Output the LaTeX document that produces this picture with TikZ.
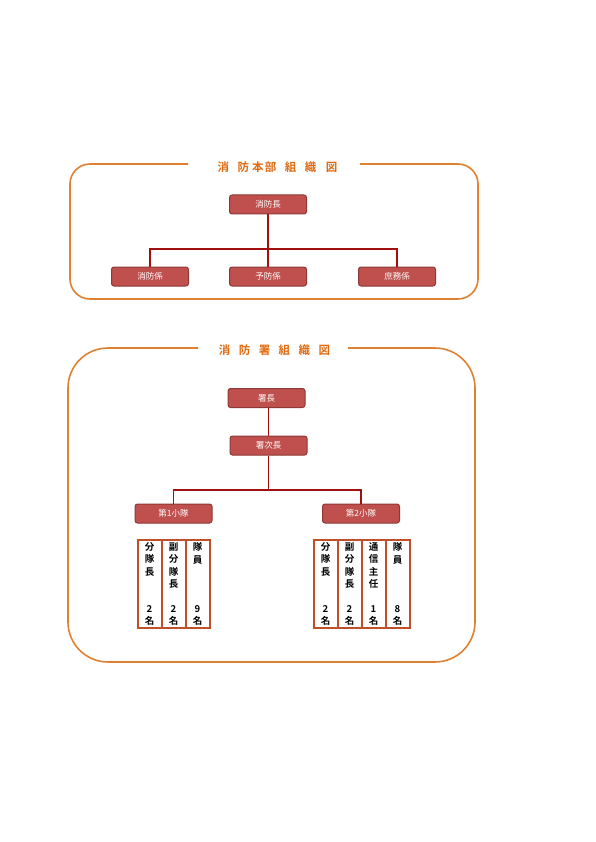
\documentclass[tikz,border=0pt]{standalone}
\usepackage{fontspec}
\newfontfamily\cjk{Noto Sans CJK JP}
\newfontfamily\cjkb{Noto Sans CJK JP Bold}
\definecolor{frameor}{HTML}{E08030}
\definecolor{titleor}{HTML}{E06A10}
\definecolor{boxfill}{HTML}{C0504D}
\definecolor{boxedge}{HTML}{8C3836}
\definecolor{linkred}{HTML}{A01010}
\definecolor{coledge}{HTML}{C0502A}
\tikzset{
  frame/.style={draw=frameor, line width=1.6pt},
  ttl/.style={font=\cjkb\fontsize{11.5}{11.5}\selectfont, text=titleor, inner sep=0pt},
  box/.style={draw=boxedge, fill=boxfill, line width=1pt, rounded corners=2.5pt, minimum width=77pt, minimum height=19pt, inner sep=0pt, text=white, font=\cjk\fontsize{8.5}{9}\selectfont},
  link/.style={draw=linkred, line width=1.5pt},
  col/.style={draw=coledge, line width=2pt, minimum width=24pt, minimum height=88pt, inner sep=0pt},
  vtxt/.style={font=\cjkb\fontsize{9.5}{12.3}\selectfont, align=center, inner sep=0pt}
}
\begin{document}
\begin{tikzpicture}[x=1pt,y=-1pt]
\useasboundingbox (0,0) rectangle (596,842);
% ---------- top frame ----------
\draw[frame, rounded corners=20pt] (360,164) -- (478,164) -- (478,299) -- (70,299) -- (70,164) -- (188,164);
\node[ttl] (t1) at (277.5,167) {消\hspace{8.5pt}防\hspace{3pt}本\hspace{1.5pt}部\hspace{8.5pt}組\hspace{8.5pt}織\hspace{9.5pt}図};
\node[box] (chief) at (268,204.5) {消防長};
\node[box] (s1) at (150,276.5) {消防係};
\node[box] (s2) at (268,276.5) {予防係};
\node[box] (s3) at (397,276.5) {庶務係};
\coordinate (j1) at (268,249);
\draw[link] (chief.south) -- (s2.north);
\draw[link] (s1.north) -- (s1.north |- j1) -- (s3.north |- j1) -- (s3.north);
% ---------- bottom frame ----------
\draw[frame, rounded corners=40pt] (348,348) -- (475,348) -- (475,662) -- (68,662) -- (68,348) -- (198,348);
\node[ttl] (t2) at (274.5,350) {消\hspace{8.5pt}防\hspace{8.5pt}署\hspace{8.5pt}組\hspace{8.5pt}織\hspace{8.5pt}図};
\node[box] (cap) at (266.5,398) {署長};
\node[box] (vcap) at (268.5,445.5) {署次長};
\node[box] (p1) at (173.5,513.5) {第1小隊};
\node[box] (p2) at (361,513.5) {第2小隊};
\coordinate (j2) at (268.5,490);
\draw[link] (cap.south -| vcap.north) -- (vcap.north);
\draw[link] (vcap.south) -- (j2);
\draw[link] (p1.north) -- (p1.north |- j2) -- (p2.north |- j2) -- (p2.north);
% ---------- tables ----------
\node[col] (a1) at (149.5,584) {};
\node[col] (a2) at (173.5,584) {};
\node[col] (a3) at (197.5,584) {};
\node[col] (b1) at (325.5,584) {};
\node[col] (b2) at (349.5,584) {};
\node[col] (b3) at (373.5,584) {};
\node[col] (b4) at (397.5,584) {};
% texts
\node[vtxt, anchor=north] (a1t) at ([yshift=-3.5pt]a1.north) {分\\隊\\長};
\node[vtxt, anchor=north] (a2t) at ([yshift=-3.5pt]a2.north) {副\\分\\隊\\長};
\node[vtxt, anchor=north] (a3t) at ([yshift=-3.5pt]a3.north) {隊\\員};
\node[vtxt, anchor=south] (a1n) at ([yshift=3pt]a1.south) {2\\名};
\node[vtxt, anchor=south] (a2n) at ([yshift=3pt]a2.south) {2\\名};
\node[vtxt, anchor=south] (a3n) at ([yshift=3pt]a3.south) {9\\名};
\node[vtxt, anchor=north] (b1t) at ([yshift=-3.5pt]b1.north) {分\\隊\\長};
\node[vtxt, anchor=north] (b2t) at ([yshift=-3.5pt]b2.north) {副\\分\\隊\\長};
\node[vtxt, anchor=north] (b3t) at ([yshift=-3.5pt]b3.north) {通\\信\\主\\任};
\node[vtxt, anchor=north] (b4t) at ([yshift=-3.5pt]b4.north) {隊\\員};
\node[vtxt, anchor=south] (b1n) at ([yshift=3pt]b1.south) {2\\名};
\node[vtxt, anchor=south] (b2n) at ([yshift=3pt]b2.south) {2\\名};
\node[vtxt, anchor=south] (b3n) at ([yshift=3pt]b3.south) {1\\名};
\node[vtxt, anchor=south] (b4n) at ([yshift=3pt]b4.south) {8\\名};
\end{tikzpicture}
\end{document}
